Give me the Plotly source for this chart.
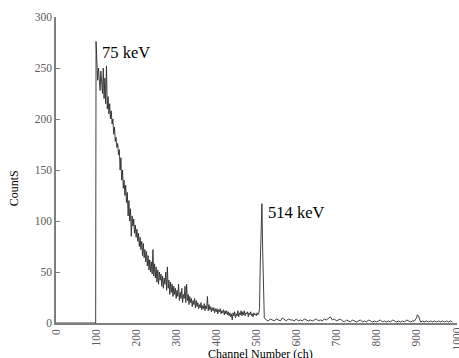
import plotly.graph_objects as go

# Channels 0-99: empty (zero counts), start of spectrum at channel 100
lead_channels = [0, 99]
lead_counts = [0, 0]

# Main region, channels 100..520 in steps of 2
main_channels = list(range(100, 522, 2))
main_counts = [
    276, 245, 238, 250, 232, 228, 247, 236, 225, 250,
    220, 240, 215, 252, 210, 222, 205, 215, 200, 208,
    195, 200, 185, 192, 178, 182, 172, 176, 165, 170,
    150, 162, 140, 150, 132, 140, 125, 135, 118, 128,
    105, 120, 100, 112, 85, 105, 95, 102, 88, 96,
    84, 92, 80, 88, 75, 84, 72, 80, 66, 78,
    64, 72, 60, 70, 56, 66, 52, 62, 50, 60,
    48, 72, 46, 58, 44, 55, 40, 52, 38, 50,
    42, 48, 36, 46, 34, 44, 38, 50, 32, 55,
    34, 42, 28, 40, 30, 38, 26, 36, 28, 34,
    24, 32, 26, 38, 22, 30, 24, 34, 20, 28,
    24, 36, 20, 38, 22, 28, 18, 26, 20, 24,
    16, 22, 18, 24, 15, 22, 16, 20, 14, 18,
    15, 20, 13, 17, 14, 19, 12, 17, 14, 26,
    12, 18, 13, 16, 11, 15, 12, 15, 10, 14,
    11, 14, 9, 13, 11, 14, 9, 12, 10, 13,
    8, 12, 9, 12, 8, 11, 7, 10, 6, 9,
    3, 10, 7, 11, 5, 9, 7, 12, 6, 10,
    8, 12, 7, 11, 8, 12, 7, 10, 9, 11,
    6, 10, 8, 11, 7, 9, 6, 10, 8, 9,
    7, 10, 8, 9, 14, 60, 110, 117, 70, 12,
    5,
]

# Tail region, channels 525..990
tail_channels = [
    525, 530, 535, 540, 545, 550, 555, 560, 565, 570,
    575, 580, 585, 590, 595, 600, 605, 610, 615, 620,
    625, 630, 635, 640, 645, 650, 655, 660, 665, 670,
    675, 680, 685, 690, 695, 700, 705, 710, 715, 720,
    725, 730, 735, 740, 745, 750, 755, 760, 765, 770,
    775, 780, 785, 790, 795, 800, 805, 810, 815, 820,
    825, 830, 835, 840, 845, 850, 855, 860, 865, 870,
    875, 880, 885, 890, 895, 900, 902, 905, 908, 910,
    915, 920, 925, 930, 935, 940, 945, 950, 955, 960,
    965, 970, 975, 980, 985, 990,
]
tail_counts = [
    3, 2, 4, 3, 2, 4, 3, 2, 5, 3,
    2, 4, 3, 3, 2, 4, 2, 3, 2, 4,
    3, 2, 3, 2, 3, 4, 2, 3, 2, 4,
    3, 5, 6, 3, 4, 2, 3, 4, 2, 1,
    3, 2, 1, 3, 2, 1, 2, 3, 1, 2,
    1, 3, 2, 1, 2, 1, 2, 3, 1, 2,
    1, 2, 1, 3, 2, 1, 2, 1, 2, 1,
    3, 2, 1, 2, 2, 5, 8, 7, 2, 1,
    2, 1, 2, 1, 2, 1, 2, 1, 2, 1,
    2, 1, 2, 1, 2, 1,
]

channels = lead_channels + main_channels + tail_channels
counts = lead_counts + main_counts + tail_counts

x_ticks = [0, 100, 200, 300, 400, 500, 600, 700, 800, 900, 1000]
y_ticks = [0, 50, 100, 150, 200, 250, 300]

peak_labels = ["75 keV", "514 keV"]
peak_label_x = [111, 524]
peak_label_y = [265, 108]

serif = "Liberation Serif, Times New Roman, serif"
tick_font = dict(family=serif, size=11.5, color="#595959")

fig = go.Figure()
fig.add_trace(go.Scatter(
    x=channels, y=counts, mode="lines",
    line=dict(color="#2b2b2b", width=0.9),
    showlegend=False, hoverinfo="skip",
))

for txt, lx, ly in zip(peak_labels, peak_label_x, peak_label_y):
    fig.add_annotation(x=lx, y=ly, text=txt, showarrow=False,
                       xanchor="left", yanchor="middle",
                       font=dict(family=serif, size=16.5, color="#000000"))

# last x tick label (at the very edge of the plot) drawn as annotation
fig.add_annotation(x=x_ticks[-1], y=-0.008, xref="x", yref="paper",
                   xanchor="center", yanchor="top", text=str(x_ticks[-1]),
                   textangle=-90, showarrow=False, font=tick_font)

fig.add_annotation(x=0.51, y=-0.072, xref="paper", yref="paper", yanchor="top",
                   xanchor="center", text="Channel Number (ch)", showarrow=False,
                   font=dict(family=serif, size=12, color="#000000"))
fig.add_annotation(x=-0.105, y=0.44, xref="paper", yref="paper",
                   xanchor="center", yanchor="middle", text="CountS", textangle=-90,
                   showarrow=False, font=dict(family=serif, size=12, color="#000000"))

fig.update_layout(
    width=459, height=358,
    margin=dict(l=56, r=2, t=17, b=35, autoexpand=False),
    paper_bgcolor="white", plot_bgcolor="white",
    xaxis=dict(range=[0, 1001], tickvals=x_ticks[:-1],
               ticktext=[str(v) for v in x_ticks[:-1]],
               tickangle=-90, showgrid=False, zeroline=False, automargin=False,
               showline=True, linecolor="#7f7f7f", linewidth=1.5,
               ticks="", tickfont=tick_font),
    yaxis=dict(range=[0, 300], tickvals=y_ticks, showgrid=False, zeroline=False,
               automargin=False,
               showline=True, linecolor="#7f7f7f", linewidth=1.5,
               ticks="inside", ticklen=4, tickcolor="#7f7f7f",
               tickfont=tick_font),
)

fig.write_html("out.html", config={"displayModeBar": False},
               post_script="document.body.style.margin='0';document.body.style.padding='0';")
